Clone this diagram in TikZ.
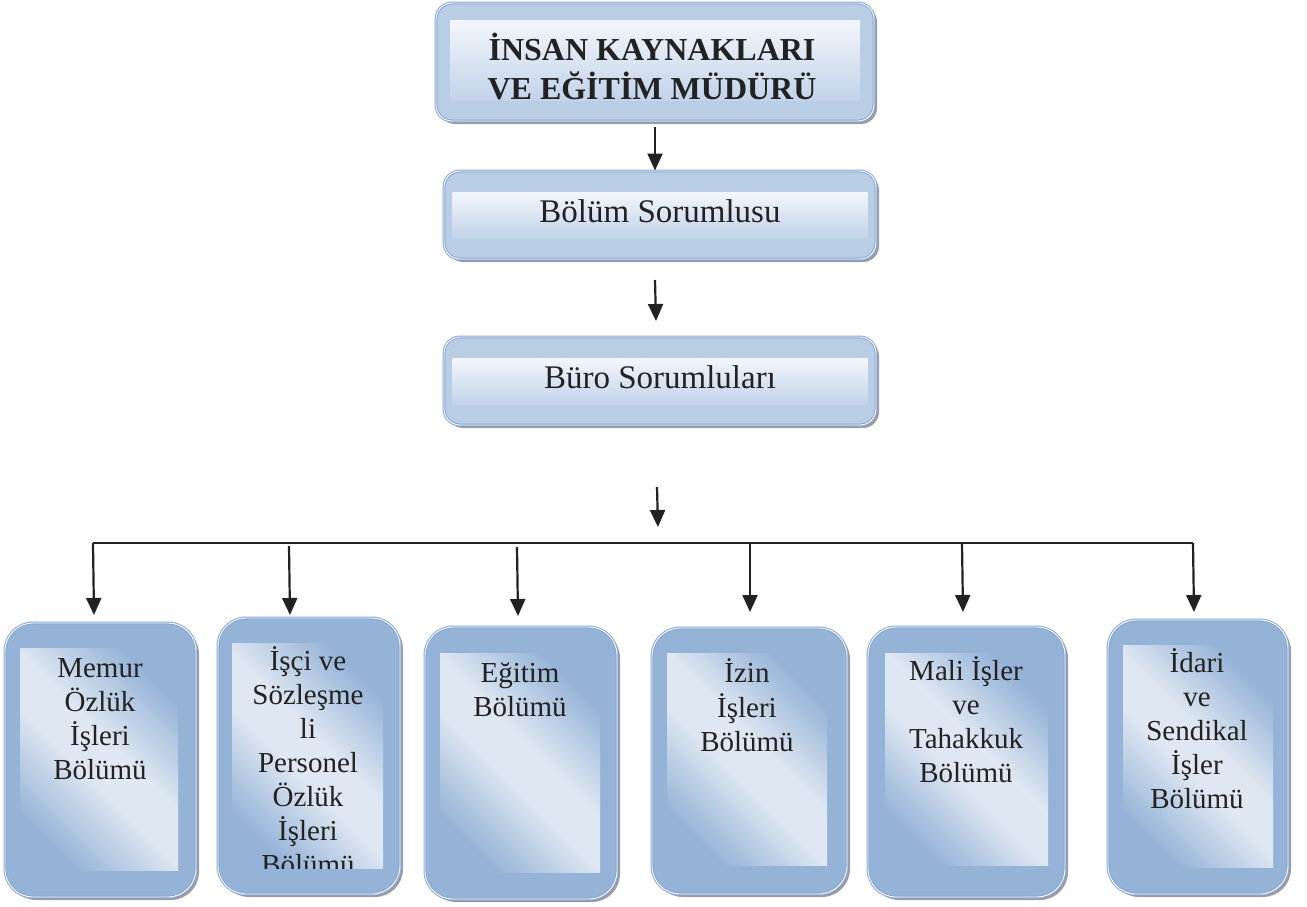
\documentclass[tikz,border=0pt]{standalone}
\usepackage{fontspec}
\setmainfont{Liberation Serif}
\usetikzlibrary{arrows.meta,calc,shadows}
\definecolor{frameA}{HTML}{B9CDE5}
\definecolor{frameB}{HTML}{95B3D7}
\definecolor{edgeC}{HTML}{86A6D2}
\definecolor{panelL}{HTML}{F3F6FB}
\definecolor{panelD}{HTML}{C2D3EA}
\definecolor{lite}{HTML}{DFE7F2}
\definecolor{shadeC}{HTML}{9C9CA8}
\definecolor{ink}{HTML}{222222}
\pgfdeclareverticalshading{diagband}{100bp}{color(0bp)=(frameB); color(25bp)=(frameB); color(45bp)=(lite); color(55bp)=(lite); color(75bp)=(frameB); color(100bp)=(frameB)}
\begin{document}
\begin{tikzpicture}[x=1pt,y=-1pt,
  frm/.style={draw=edgeC, double=white, double distance=0.9pt, line width=1pt,
    inner sep=0pt, drop shadow={shadow xshift=3pt, shadow yshift=-3pt, fill=shadeC, opacity=1}},
  topframe/.style={frm, fill=frameA, rounded corners=16pt},
  botframe/.style={frm, fill=frameB, rounded corners=28pt},
  toppanel/.style={inner sep=0pt, top color=panelL, bottom color=panelD},
  botpanel/.style={inner sep=0pt, shading=diagband, shading angle=-45},
  btext/.style={inner sep=0pt, align=center, anchor=north, text=ink, font=\fontsize{29}{34}\selectfont},
  mtext/.style={inner sep=0pt, anchor=base, text=ink, font=\fontsize{33}{40}\selectfont},
  arr/.style={draw=ink, line width=2.2pt, -{Triangle[length=17pt,width=15pt]}},
]
\useasboundingbox (0,0) rectangle (1307,906);

% top levels
\node[topframe, minimum width=438pt, minimum height=118pt] (t) at (655,62) {};
\node[toppanel, minimum width=410pt, minimum height=80pt] (tp) at (655,60) {};
\node[inner sep=0pt, align=center, anchor=north, text=ink, font=\fontsize{32}{35}\selectfont\bfseries] (tt) at (652,32.5) {\strut İNSAN KAYNAKLARI\\VE EĞİTİM MÜDÜRÜ};

\node[topframe, minimum width=432pt, minimum height=88pt] (b2) at (660,215) {};
\node[toppanel, minimum width=415pt, minimum height=46pt] (b2p) at (660,215) {};
\node[mtext] (b2t) at (660,222) {Bölüm Sorumlusu};

\node[topframe, minimum width=432pt, minimum height=88pt] (b3) at (660,381) {};
\node[toppanel, minimum width=415pt, minimum height=46pt] (b3p) at (660,381) {};
\node[mtext] (b3t) at (660,388) {Büro Sorumluları};

% bottom boxes
\node[botframe, minimum width=191pt, minimum height=274pt] (m1) at (100.5,760) {};
\node[botpanel, minimum width=158pt, minimum height=222pt] (p1) at (99,759) {};
\node[btext] (t1) at (100,653) {\strut Memur\\Özlük\\İşleri\\Bölümü};

\node[botframe, minimum width=182pt, minimum height=276pt] (m2) at (309,756) {};
\node[botpanel, minimum width=151pt, minimum height=225pt] (p2) at (307.5,755.5) {};
\begin{scope}
\clip (p2.south west) rectangle (p2.north east);
\node[btext] (t2) at (308,646) {\strut İşçi ve\\Sözleşme\\li\\Personel\\Özlük\\İşleri\\Bölümü};
\end{scope}

\node[botframe, minimum width=192pt, minimum height=272pt] (m3) at (521,763) {};
\node[botpanel, minimum width=160pt, minimum height=219pt] (p3) at (520,762.5) {};
\node[btext] (t3) at (520,658) {\strut Eğitim\\Bölümü};

\node[botframe, minimum width=195pt, minimum height=266pt] (m4) at (749.5,761) {};
\node[botpanel, minimum width=160pt, minimum height=212pt] (p4) at (747,759) {};
\node[btext] (t4) at (747,658) {\strut İzin\\İşleri\\Bölümü};

\node[botframe, minimum width=197pt, minimum height=270pt] (m5) at (966.5,762) {};
\node[botpanel, minimum width=163pt, minimum height=212pt] (p5) at (966.5,759) {};
\node[btext] (t5) at (966,656) {\strut Mali İşler\\ve\\Tahakkuk\\Bölümü};

\node[botframe, minimum width=180pt, minimum height=274pt] (m6) at (1198,757) {};
\node[botpanel, minimum width=150pt, minimum height=222pt] (p6) at (1198,756) {};
\node[btext] (t6) at (1197,648) {\strut İdari\\ve\\Sendikal\\İşler\\Bölümü};

% connectors
\coordinate (a1s) at (655,127);
\draw[arr] (a1s) -- (a1s |- b2.north);
\coordinate (a2s) at (655,280);
\coordinate (a2e) at (656,321);
\draw[arr] (a2s) -- (a2e);
\coordinate (a3s) at (657,487);
\coordinate (a3e) at (658,527);
\draw[arr] (a3s) -- (a3e);

\coordinate (d1) at (93,543);   \coordinate (e1) at (94,615);
\coordinate (d2) at (289,546);  \coordinate (e2) at (290,615);
\coordinate (d3) at (517,547);  \coordinate (e3) at (518,616);
\coordinate (d4) at (750,543);  \coordinate (e4) at (750,612);
\coordinate (d5) at (962,543);  \coordinate (e5) at (963,612);
\coordinate (d6) at (1193,543); \coordinate (e6) at (1194,612);
\draw[ink, line width=2.2pt] (d1) -- (d6);
\foreach \i in {1,...,6} {\draw[arr] (d\i) -- (e\i);}
\end{tikzpicture}
\end{document}
